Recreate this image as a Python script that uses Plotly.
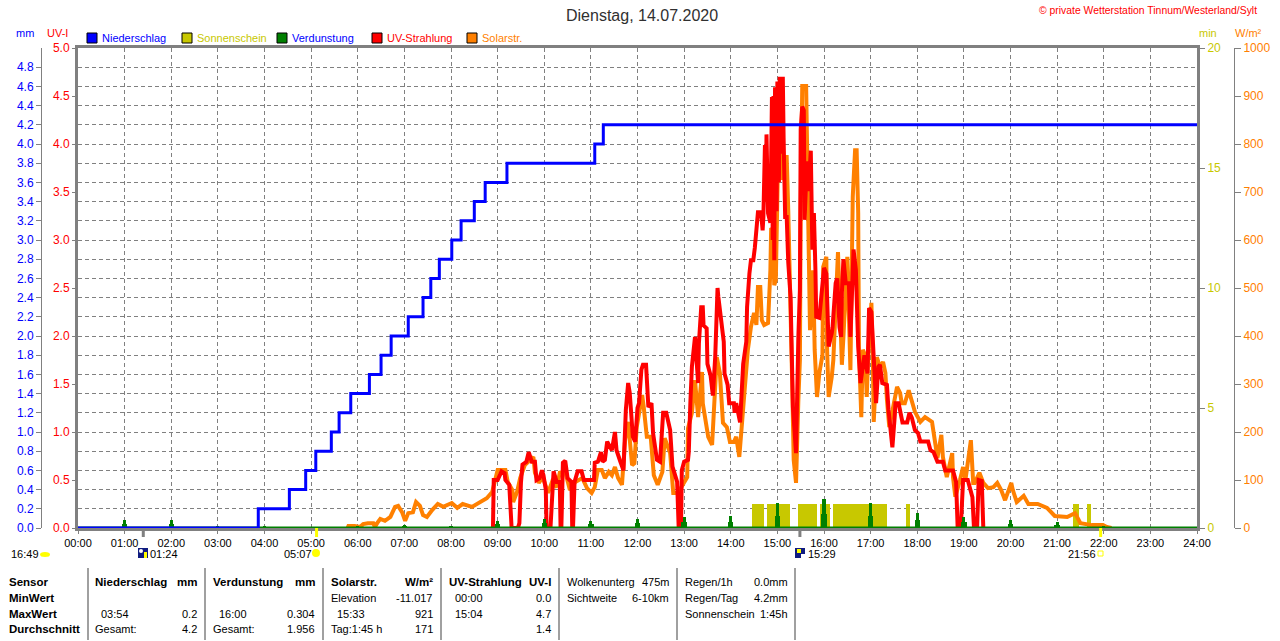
import plotly.graph_objects as go

W, H = 1280, 641

hour_labels = [f"{h:02d}:00" for h in range(25)]
hour_minutes = [h * 60 for h in range(25)]

# Niederschlag, kumuliert (Minuten seit 00:00, mm)
rain_min = [0, 232, 272, 293, 306, 326, 336, 351, 375, 390, 403, 425, 444, 454, 465, 481, 493, 510, 524, 552, 665, 676, 1440]
rain_mm = [0, 0.2, 0.4, 0.6, 0.8, 1.0, 1.2, 1.4, 1.6, 1.8, 2.0, 2.2, 2.4, 2.6, 2.8, 3.0, 3.2, 3.4, 3.6, 3.8, 4.0, 4.2, 4.2]

# Verdunstung je Stunde
evap_min = [60, 120, 180, 240, 300, 360, 420, 480, 540, 600, 660, 720, 780, 840, 900, 960, 1020, 1080, 1140, 1200, 1260, 1320]
evap_mm = [0.08, 0.08, 0.02, 0.02, 0.01, 0.02, 0.03, 0.02, 0.07, 0.09, 0.07, 0.09, 0.11, 0.13, 0.26, 0.3, 0.26, 0.16, 0.11, 0.08, 0.06, 0.02]
evap_base = [0.04, 0.04, 0.01, 0.01, 0.005, 0.01, 0.015, 0.01, 0.04, 0.05, 0.04, 0.05, 0.06, 0.06, 0.13, 0.15, 0.13, 0.08, 0.06, 0.04, 0.03, 0.01]

# Sonnenschein
sun_start = [867, 887, 927, 955, 972, 1066, 1281, 1299]
sun_end = [883, 916, 951, 968, 1041, 1071, 1288, 1304]

uv_min = [534, 535, 540, 545, 549, 550, 555, 558, 566, 568, 570, 572, 577, 580, 584, 588, 590, 594, 597, 599, 602, 603, 608, 610, 612, 616, 620, 621, 622, 624, 627, 630, 635, 636, 637, 639, 643, 648, 651, 664, 665, 669, 673, 675, 678, 681, 687, 691, 693, 698, 702, 705, 708, 710, 714, 717, 720, 722, 725, 727, 731, 734, 738, 740, 745, 749, 753, 757, 762, 765, 771, 773, 776, 777, 780, 785, 786, 788, 790, 794, 798, 799, 802, 804, 805, 809, 810, 814, 817, 820, 823, 824, 827, 831, 832, 836, 838, 844, 845, 847, 852, 855, 856, 860, 861, 864, 866, 869, 871, 875, 879, 881, 882, 884, 885, 886, 887, 888, 891, 893, 894, 895, 896, 897, 899, 900, 902, 903, 905, 907, 908, 910, 912, 914, 917, 919, 920, 924, 925, 927, 929, 930, 932, 934, 935, 938, 940, 943, 945, 947, 949, 950, 954, 958, 960, 963, 964, 966, 970, 971, 975, 977, 980, 982, 983, 985, 988, 992, 994, 997, 998, 1001, 1004, 1007, 1010, 1012, 1016, 1017, 1018, 1021, 1024, 1027, 1030, 1032, 1035, 1041, 1043, 1048, 1051, 1052, 1056, 1058, 1061, 1067, 1070, 1073, 1077, 1081, 1084, 1094, 1097, 1101, 1106, 1113, 1116, 1126, 1130, 1132, 1136, 1139, 1145, 1151, 1153, 1157, 1159, 1163, 1165]
uv_val = [0, 0.5, 0.5, 0.59, 0.57, 0.5, 0.45, 0, 0, 0.05, 0.47, 0.66, 0.69, 0.79, 0.69, 0.69, 0.5, 0.52, 0.6, 0.55, 0.4, 0, 0, 0.43, 0.59, 0.48, 0.48, 0, 0, 0.68, 0.7, 0.52, 0.48, 0, 0, 0.48, 0.59, 0.59, 0.5, 0.5, 0.68, 0.69, 0.79, 0.69, 0.71, 0.9, 0.81, 1.0, 0.81, 0.69, 0.6, 1.23, 1.51, 1.41, 0.95, 0.9, 1.25, 1.3, 1.65, 1.7, 1.7, 1.26, 1.3, 0.99, 0.71, 0.69, 1.2, 1.2, 1.02, 0.64, 0.48, 0, 0, 0.6, 0.69, 0.71, 0.79, 1.3, 1.68, 1.99, 1.51, 1.92, 2.3, 2.3, 2.11, 2.08, 1.71, 1.59, 1.38, 1.78, 2.5, 2.41, 2.19, 1.94, 1.61, 1.49, 1.3, 1.3, 1.2, 1.3, 1.1, 1.58, 1.71, 1.94, 2.3, 2.65, 2.79, 2.79, 2.92, 3.29, 3.29, 3.1, 3.24, 3.99, 3.4, 4.1, 3.6, 3.28, 3.18, 4.49, 3.0, 4.5, 2.79, 4.59, 3.3, 4.65, 3.6, 4.7, 3.9, 4.7, 4.07, 3.24, 3.24, 2.77, 2.4, 1.78, 1.26, 0.78, 1.26, 1.99, 2.48, 4.15, 4.39, 4.35, 3.21, 3.82, 3.51, 3.93, 2.9, 3.28, 2.68, 2.2, 2.19, 2.48, 2.71, 2.65, 2.24, 1.89, 2.03, 2.09, 2.55, 2.6, 2.09, 1.99, 2.45, 2.8, 2.55, 2.55, 1.99, 2.69, 2.9, 2.69, 1.89, 1.51, 1.72, 1.8, 1.61, 2.09, 2.29, 2.25, 1.68, 1.3, 1.68, 1.7, 1.51, 1.49, 1.23, 0.84, 1.16, 1.3, 1.3, 1.2, 1.1, 1.1, 1.2, 1.15, 1.02, 0.99, 0.9, 0.9, 0.81, 0.79, 0.69, 0.69, 0.6, 0.6, 0.48, 0, 0, 0.5, 0.5, 0.32, 0, 0, 0.5, 0.49, 0]

solar_min = [347, 348, 356, 363, 367, 373, 380, 382, 385, 389, 395, 402, 408, 412, 417, 421, 425, 431, 435, 440, 444, 449, 456, 463, 470, 481, 488, 495, 507, 515, 526, 533, 535, 540, 550, 553, 559, 560, 565, 569, 575, 586, 588, 593, 598, 605, 610, 616, 620, 627, 633, 640, 649, 655, 661, 665, 669, 674, 678, 683, 687, 691, 695, 700, 704, 708, 713, 716, 719, 726, 728, 732, 737, 741, 746, 752, 755, 762, 766, 772, 784, 785, 790, 794, 798, 803, 804, 808, 811, 816, 818, 822, 826, 830, 835, 839, 844, 847, 851, 855, 860, 862, 866, 870, 873, 875, 878, 880, 883, 888, 891, 892, 894, 896, 898, 900, 901, 905, 907, 910, 912, 914, 916, 919, 921, 924, 927, 929, 930, 932, 937, 938, 939, 942, 946, 948, 951, 954, 958, 959, 963, 964, 966, 970, 972, 977, 978, 981, 983, 985, 990, 994, 996, 997, 1000, 1002, 1004, 1005, 1008, 1010, 1013, 1015, 1017, 1021, 1023, 1024, 1028, 1032, 1036, 1039, 1041, 1044, 1054, 1058, 1060, 1064, 1069, 1073, 1077, 1084, 1090, 1099, 1103, 1106, 1111, 1113, 1118, 1125, 1126, 1129, 1135, 1139, 1142, 1145, 1149, 1152, 1154, 1160, 1165, 1171, 1178, 1183, 1188, 1193, 1201, 1203, 1208, 1217, 1223, 1235, 1247, 1257, 1273, 1283, 1290, 1305, 1319, 1324, 1330]
solar_val = [0, 4, 4, 2, 8, 10, 10, 2, 10, 19, 15, 23, 44, 46, 33, 15, 31, 33, 54, 46, 27, 23, 38, 50, 44, 52, 42, 50, 44, 52, 62, 75, 90, 121, 121, 96, 79, 54, 75, 104, 131, 148, 115, 94, 106, 73, 96, 85, 115, 117, 79, 96, 104, 83, 73, 85, 121, 121, 104, 117, 110, 127, 104, 90, 183, 221, 131, 135, 210, 277, 252, 190, 190, 110, 90, 117, 187, 156, 73, 73, 106, 208, 240, 308, 231, 325, 260, 219, 190, 173, 240, 356, 323, 219, 210, 179, 179, 190, 148, 231, 315, 371, 419, 448, 423, 502, 502, 433, 423, 427, 537, 625, 621, 506, 517, 704, 777, 777, 725, 773, 773, 662, 475, 308, 142, 94, 267, 350, 662, 921, 921, 814, 773, 412, 537, 371, 273, 323, 360, 544, 565, 371, 273, 315, 350, 510, 575, 440, 340, 398, 565, 329, 537, 690, 787, 787, 656, 371, 231, 371, 360, 273, 371, 469, 335, 221, 356, 335, 346, 323, 267, 210, 294, 281, 260, 260, 287, 267, 242, 221, 231, 221, 169, 146, 194, 148, 106, 156, 106, 65, 100, 127, 100, 142, 183, 94, 94, 115, 94, 83, 85, 94, 79, 58, 94, 79, 54, 67, 50, 50, 42, 25, 23, 31, 10, 6, 6, 2, 0]

BLUE = "#0000FF"
OLIVE = "#C8C800"
GREEN = "#008000"
RED = "#FF0000"
ORANGE = "#FF8000"
GRAY = "#808080"
FONT = "Liberation Sans"
TXT = 11

legend_names = ["Niederschlag", "Sonnenschein", "Verdunstung", "UV-Strahlung", "Solarstr."]
legend_colors = [BLUE, OLIVE, GREEN, RED, ORANGE]
legend_text_colors = [BLUE, OLIVE, BLUE, RED, ORANGE]

astro_marks_min = [84, 307, 929, 1316]
astro_mark_colors = [GRAY, "#FFFF00", GRAY, "#FFFF00"]

fig = go.Figure()

fig.add_trace(go.Bar(x=sun_start, y=[1] * len(sun_start), width=[e - s for s, e in zip(sun_start, sun_end)],
                     offset=0, marker=dict(color=OLIVE, line_width=0), yaxis="y"))
fig.add_trace(go.Scatter(x=solar_min, y=solar_val, mode="lines", line=dict(color=ORANGE, width=4), yaxis="y2"))
fig.add_trace(go.Scatter(x=uv_min, y=uv_val, mode="lines", line=dict(color=RED, width=4), yaxis="y3"))
fig.add_trace(go.Bar(x=evap_min, y=evap_mm, width=4, marker=dict(color=GREEN, line_width=0), yaxis="y4"))
fig.add_trace(go.Bar(x=evap_min, y=evap_base, width=7, marker=dict(color=GREEN, line_width=0), yaxis="y4"))
fig.add_trace(go.Scatter(x=[0, 1440], y=[0, 0], mode="lines", line=dict(color=GREEN, width=3), yaxis="y4"))
fig.add_trace(go.Scatter(x=rain_min, y=rain_mm, mode="lines", line=dict(color=BLUE, width=3, shape="hv"), yaxis="y4"))


def px_x(x):
    return x / W


def px_y(y):
    return 1 - y / H


def label(x, y, text, color="black", size=TXT, anchor="left", bold=False):
    fig.add_annotation(xref="paper", yref="paper", x=px_x(x), y=px_y(y), text=f"<b>{text}</b>" if bold else text,
                       showarrow=False, xanchor=anchor, yanchor="middle", borderpad=0,
                       font=dict(family=FONT, size=size, color=color))


def box(x0, y0, x1, y1, fill, line=None, kind="rect"):
    fig.add_shape(type=kind, xref="paper", yref="paper", x0=px_x(x0), x1=px_x(x1), y0=px_y(y0), y1=px_y(y1),
                  fillcolor=fill, line=dict(color=line or fill, width=1 if line else 0), layer="above")


# Kopf
label(642, 15, "Dienstag, 14.07.2020", color="#303030", size=16, anchor="center")
label(1258, 11, "© private Wetterstation Tinnum/Westerland/Sylt", color=RED, size=10.4, anchor="right")
label(15, 33, "mm", color=BLUE)
label(46, 33, "UV-I", color=RED)
label(1198, 33, "min", color=OLIVE)
label(1234, 33, "W/m²", color=ORANGE)

for i, name in enumerate(legend_names):
    left = 87 + i * 95
    box(left, 33, left + 10, 43, legend_colors[i], line="black")
    label(left + 14, 38, name, color=legend_text_colors[i])

# Sonne und Mond
for minute, col in zip(astro_marks_min, astro_mark_colors):
    fig.add_shape(type="line", xref="x", yref="paper", x0=minute, x1=minute, y0=px_y(528), y1=px_y(537),
                  line=dict(color=col, width=3), layer="above")

label(10, 554, "16:49")
label(149, 554, "01:24")
label(283, 554, "05:07")
label(807, 554, "15:29")
label(1067, 554, "21:56")
box(40, 552, 50, 557, "#FFFF00", kind="circle")
box(138, 548, 148, 558, "#101C80")
box(139, 549, 143, 553, "white", kind="circle")
box(144, 552, 147, 558, "#FFFF00")
box(312, 549, 320, 557, "#FFFF00", kind="circle")
box(795, 548, 805, 558, "#101C80")
box(797, 549, 801, 553, "#FFFF00")
box(801, 554, 805, 558, "white")
box(1098, 551, 1103, 556, "white", line="#FFFF00")

# Tabelle unten
for x in [88, 205, 323, 441, 559, 677, 795]:
    fig.add_shape(type="line", xref="paper", yref="paper", x0=px_x(x), x1=px_x(x), y0=px_y(568), y1=px_y(640),
                  line=dict(color=GRAY, width=1.5))

rows = [582, 598, 614, 629]
for r, t in zip(rows, ["Sensor", "MinWert", "MaxWert", "Durchschnitt"]):
    label(8, r, t, bold=True, size=11.5)

label(94, rows[0], "Niederschlag", bold=True, size=11.5)
label(198, rows[0], "mm", anchor="right", bold=True, size=11.5)
label(100, rows[2], "03:54")
label(198, rows[2], "0.2", anchor="right")
label(94, rows[3], "Gesamt:")
label(198, rows[3], "4.2", anchor="right")

label(212, rows[0], "Verdunstung", bold=True, size=11.5)
label(316, rows[0], "mm", anchor="right", bold=True, size=11.5)
label(218, rows[2], "16:00")
label(316, rows[2], "0.304", anchor="right")
label(212, rows[3], "Gesamt:")
label(316, rows[3], "1.956", anchor="right")

label(330, rows[0], "Solarstr.", bold=True, size=11.5)
label(434, rows[0], "W/m²", anchor="right", bold=True, size=11.5)
label(330, rows[1], "Elevation")
label(434, rows[1], "-11.017", anchor="right")
label(336, rows[2], "15:33")
label(434, rows[2], "921", anchor="right")
label(330, rows[3], "Tag:1:45 h")
label(434, rows[3], "171", anchor="right")

label(448, rows[0], "UV-Strahlung", bold=True, size=11.5)
label(552, rows[0], "UV-I", anchor="right", bold=True, size=11.5)
label(454, rows[1], "00:00")
label(552, rows[1], "0.0", anchor="right")
label(454, rows[2], "15:04")
label(552, rows[2], "4.7", anchor="right")
label(552, rows[3], "1.4", anchor="right")

label(566, rows[0], "Wolkenunterg")
label(671, rows[0], "475m", anchor="right")
label(566, rows[1], "Sichtweite")
label(670, rows[1], "6-10km", anchor="right")

label(684, rows[0], "Regen/1h")
label(789, rows[0], "0.0mm", anchor="right")
label(684, rows[1], "Regen/Tag")
label(789, rows[1], "4.2mm", anchor="right")
label(684, rows[2], "Sonnenschein")
label(789, rows[2], "1:45h", anchor="right")

tick_font = dict(family=FONT, size=TXT + 1)
fig.update_layout(
    width=W,
    height=H,
    margin=dict(l=0, r=0, t=0, b=0, autoexpand=False),
    paper_bgcolor="white",
    plot_bgcolor="white",
    showlegend=False,
    barmode="overlay",
    bargap=0,
    xaxis=dict(domain=[78 / W, 1197 / W], range=[0, 1440], tickvals=hour_minutes, ticktext=hour_labels,
               showgrid=True, gridcolor=GRAY, griddash="4px,3px", gridwidth=1, showline=True, mirror=True,
               linecolor=GRAY, linewidth=3, ticks="outside", ticklen=3, tickcolor=GRAY,
               tickfont=dict(family=FONT, size=TXT, color="black"), zeroline=False),
    yaxis=dict(domain=[1 - 528 / H, 1 - 48 / H], range=[0, 20], tickvals=[0, 5, 10, 15, 20], side="right",
               showgrid=False, zeroline=False, showline=True, mirror=True, linecolor=GRAY, linewidth=3,
               ticks="outside", ticklen=5, tickcolor=GRAY, tickfont=dict(tick_font, color=OLIVE)),
    yaxis2=dict(domain=[1 - 528 / H, 1 - 48 / H], range=[0, 1000], dtick=100, overlaying="y", anchor="free",
                position=1234 / W, side="right", showgrid=False, zeroline=False, showline=True, linecolor=GRAY,
                linewidth=1, ticks="outside", ticklen=6, tickcolor=GRAY, tickfont=dict(tick_font, color=ORANGE)),
    yaxis3=dict(domain=[1 - 528 / H, 1 - 48 / H], range=[0, 5], dtick=0.5, tickformat=".1f", overlaying="y",
                anchor="x", side="left", showgrid=False, zeroline=False, showline=False,
                ticks="outside", ticklen=5, tickcolor=GRAY, tickfont=dict(tick_font, color=RED)),
    yaxis4=dict(domain=[1 - 528 / H, 1 - 48 / H], range=[0, 5],
                tickvals=[i / 5 for i in range(25)], tickformat=".1f", overlaying="y", anchor="free",
                position=41 / W, side="left", showgrid=True, gridcolor=GRAY, griddash="4px,3px", gridwidth=1,
                zeroline=False, showline=True, linecolor=GRAY, linewidth=1, ticks="outside", ticklen=5,
                tickcolor=GRAY, tickfont=dict(tick_font, color=BLUE)),
)

fig.write_html("out.html", config={"displayModeBar": False}, post_script="document.body.style.margin='0'")
